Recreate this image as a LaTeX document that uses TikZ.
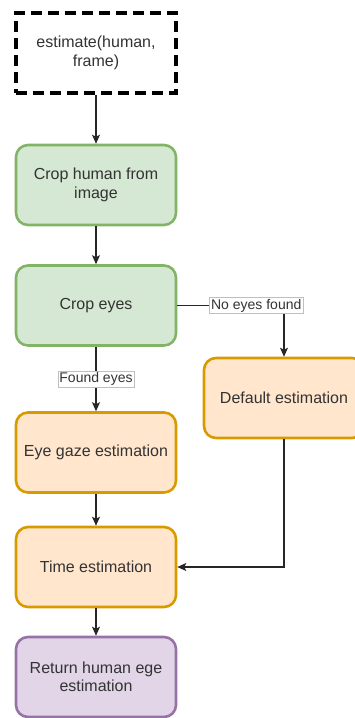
\documentclass[tikz,border=0pt]{standalone}
\usepackage{fontspec}
\setmainfont{Liberation Sans}
\usetikzlibrary{arrows.meta}
\definecolor{txt}{HTML}{333333}
\definecolor{greenfill}{HTML}{D5E8D4}
\definecolor{greenline}{HTML}{82B366}
\definecolor{orangefill}{HTML}{FFE6CC}
\definecolor{orangeline}{HTML}{D79B00}
\definecolor{purplefill}{HTML}{E1D5E7}
\definecolor{purpleline}{HTML}{9673A6}
\tikzset{
  box/.style={rectangle, rounded corners=12pt, line width=2.6pt,
    minimum width=160pt, minimum height=80pt, align=center, text=txt,
    font=\fontsize{16}{18.5}\selectfont, inner sep=2pt},
  entrybox/.style={rectangle, line width=3.6pt, draw=black,
    dash pattern=on 11pt off 6pt, fill=white,
    minimum width=160pt, minimum height=80pt, align=center, text=txt,
    font=\fontsize{16}{18.5}\selectfont},
  greenbox/.style={box, draw=greenline, fill=greenfill},
  orangebox/.style={box, draw=orangeline, fill=orangefill},
  purplebox/.style={box, draw=purpleline, fill=purplefill},
  flow/.style={line width=1.3pt, draw=black!85,
    -{Stealth[length=9pt, width=8pt, inset=2pt]}},
  edgelabel/.style={fill=white, draw=black!25, line width=0.6pt,
    text=txt, font=\fontsize{14}{16}\selectfont, inner sep=1.5pt}
}
\begin{document}
\begin{tikzpicture}[x=1pt, y=-1pt]
  \useasboundingbox (0,0) rectangle (355,718);
  \clip (0,0) rectangle (355,718);

  % steps of the estimation
  \node[entrybox]   (start)   at (96,53)    {estimate(human,\\frame)};
  \node[greenbox]   (crop)    at (96,185)   {Crop human from\\image};
  \node[greenbox]   (eyes)    at (96,305.5) {Crop eyes};
  \node[orangebox]  (gaze)    at (96,452.5) {Eye gaze estimation};
  \node[orangebox]  (default) at (284,398)  {Default estimation};
  \node[orangebox]  (time)    at (96,567)   {Time estimation};
  \node[purplebox]  (ret)     at (96,677)   {Return human ege\\estimation};

  % connectors
  \draw[flow] (start) -- (crop);
  \draw[flow] (crop) -- (eyes);
  \draw[flow] (eyes) -- node[edgelabel] {Found eyes} (gaze);
  \draw[flow] (eyes.east) -| node[edgelabel, pos=0.37] {No eyes found} (default.north);
  \draw[flow] (default.south) |- (time.east);
  \draw[flow] (gaze) -- (time);
  \draw[flow] (time) -- (ret);
\end{tikzpicture}
\end{document}
